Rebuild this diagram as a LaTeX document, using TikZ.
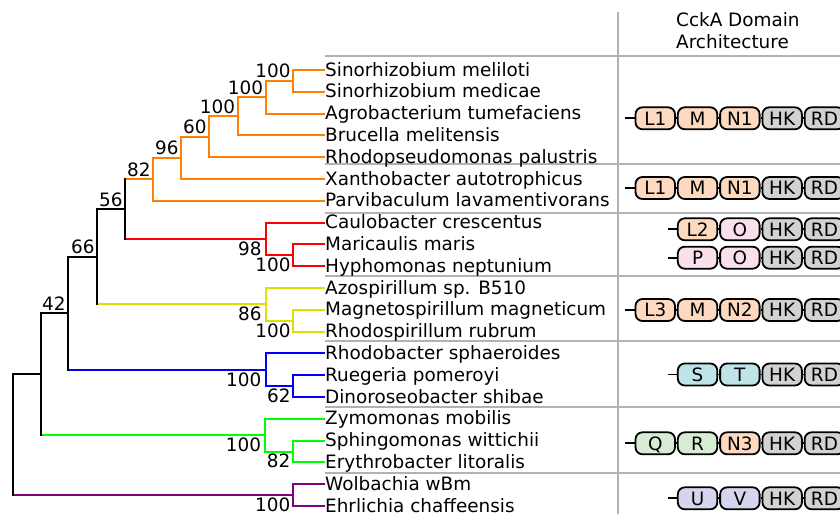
\documentclass[tikz,border=0pt]{standalone}
\usepackage{fontspec}
\setmainfont{DejaVu Sans}
\definecolor{tor}{RGB}{255,128,0}
\definecolor{tre}{RGB}{255,0,0}
\definecolor{tye}{RGB}{222,222,0}
\definecolor{tbl}{RGB}{0,0,255}
\definecolor{tgr}{RGB}{0,255,0}
\definecolor{tpu}{RGB}{128,0,128}
\definecolor{sepg}{RGB}{178,178,178}
\definecolor{cpeach}{RGB}{252,217,191}
\definecolor{cgray}{RGB}{210,210,210}
\definecolor{cpink}{RGB}{250,224,236}
\definecolor{ccyan}{RGB}{191,228,232}
\definecolor{cgreen}{RGB}{214,236,211}
\definecolor{clav}{RGB}{214,213,238}
\newcommand{\tedge}[3]{\draw[treeline,#1] (#2 |- #3) -- (#3);}
\newcommand{\tvert}[4]{\draw[treeline,#1] (#2 |- #3) -- (#2 |- #4);}
\begin{document}
\begin{tikzpicture}[x=1pt,y=-1pt,
  every node/.style={font=\fontsize{18.4}{22.3}\selectfont, inner sep=0pt},
  treeline/.style={line width=2pt, line cap=rect},
  sepline/.style={sepg, line width=2pt},
  leaflab/.style={anchor=base west},
  bsabove/.style={anchor=south east},
  bsbelow/.style={anchor=north east},
  dom/.style={draw, line width=1.8pt, rounded corners=7pt, minimum width=39.5pt,
    minimum height=22pt, text height=13.4pt, text depth=0pt, fill=#1},
  conn/.style={line width=1.8pt}]
\useasboundingbox (0,0) rectangle (840,514);
\clip (0,0) rectangle (840,514);
% ---- separators
\draw[sepline] (618,12) -- (618,514);
\foreach \yy in {56,163.5,212.5,276,341,407,472.5}
  \draw[sepline] (325,\yy) -- (840,\yy);
% ---- header
\node[anchor=base west] (hdr1) at (676,26) {CckA Domain};
\node[anchor=base west] (hdr2) at (676,48.3) {Architecture};
% ---- tips
\foreach \i in {1,...,21} \coordinate (t\i) at (323.5,{70+21.8*(\i-1)});
% ---- internal nodes
\coordinate (O6) at (293.3,80.9);
\coordinate (O5) at (265.7,97.25);
\coordinate (O4) at (237.7,116.3);
\coordinate (O3) at (209.3,136.8);
\coordinate (O2) at (181.3,157.9);
\coordinate (O)  at (153.3,179.35);
\coordinate (Rd2) at (293.3,255.3);
\coordinate (Rd) at (265.7,238.95);
\coordinate (D)  at (125.3,209.15);
\coordinate (Y2) at (293.3,320.7);
\coordinate (Y)  at (265.7,304.35);
\coordinate (C)  at (97.3,256.75);
\coordinate (Bl2) at (293.3,386.1);
\coordinate (Bl) at (265.5,369.75);
\coordinate (B)  at (68.3,313.25);
\coordinate (G2) at (293.0,451.5);
\coordinate (G)  at (265.3,435.15);
\coordinate (A)  at (40.7,374.2);
\coordinate (P)  at (293.0,495.1);
\coordinate (R)  at (12.7,434.65);
% ---- horizontals
\tedge{tor}{O6}{t1}\tedge{tor}{O6}{t2}
\tedge{tor}{O5}{O6}\tedge{tor}{O5}{t3}
\tedge{tor}{O4}{O5}\tedge{tor}{O4}{t4}
\tedge{tor}{O3}{O4}\tedge{tor}{O3}{t5}
\tedge{tor}{O2}{O3}\tedge{tor}{O2}{t6}
\tedge{tor}{O}{O2}\tedge{tor}{O}{t7}
\tedge{tor}{D}{O}\tedge{tre}{D}{Rd}
\tedge{tre}{Rd}{t8}\tedge{tre}{Rd}{Rd2}
\tedge{tre}{Rd2}{t9}\tedge{tre}{Rd2}{t10}
\tedge{black}{C}{D}\tedge{tye}{C}{Y}
\tedge{tye}{Y}{t11}\tedge{tye}{Y}{Y2}
\tedge{tye}{Y2}{t12}\tedge{tye}{Y2}{t13}
\tedge{black}{B}{C}\tedge{tbl}{B}{Bl}
\tedge{tbl}{Bl}{t14}\tedge{tbl}{Bl}{Bl2}
\tedge{tbl}{Bl2}{t15}\tedge{tbl}{Bl2}{t16}
\tedge{black}{A}{B}\tedge{tgr}{A}{G}
\tedge{tgr}{G}{t17}\tedge{tgr}{G}{G2}
\tedge{tgr}{G2}{t18}\tedge{tgr}{G2}{t19}
\tedge{black}{R}{A}\tedge{tpu}{R}{P}
\tedge{tpu}{P}{t20}\tedge{tpu}{P}{t21}
% ---- verticals
\tvert{tor}{O6}{t1}{t2}
\tvert{tor}{O5}{O6}{t3}
\tvert{tor}{O4}{O5}{t4}
\tvert{tor}{O3}{O4}{t5}
\tvert{tor}{O2}{O3}{t6}
\tvert{tor}{O}{O2}{t7}
\tvert{tre}{Rd2}{t9}{t10}
\tvert{tre}{Rd}{t8}{Rd2}
\tvert{black}{D}{O}{Rd}
\tvert{tye}{Y2}{t12}{t13}
\tvert{tye}{Y}{t11}{Y2}
\tvert{black}{C}{D}{Y}
\tvert{tbl}{Bl2}{t15}{t16}
\tvert{tbl}{Bl}{t14}{Bl2}
\tvert{black}{B}{C}{Bl}
\tvert{tgr}{G2}{t18}{t19}
\tvert{tgr}{G}{t17}{G2}
\tvert{black}{A}{B}{G}
\tvert{tpu}{P}{t20}{t21}
\tvert{black}{R}{A}{P}
% ---- support values
\node[bsabove] (sO6) at ([xshift=-2.5pt,yshift=2.5pt]O6) {100};
\node[bsabove] (sO5) at ([xshift=-2.5pt,yshift=2.5pt]O5) {100};
\node[bsabove] (sO4) at ([xshift=-2.5pt,yshift=2.5pt]O4) {100};
\node[bsabove] (sO3) at ([xshift=-2.5pt,yshift=2.5pt]O3) {60};
\node[bsabove] (sO2) at ([xshift=-2.5pt,yshift=2.5pt]O2) {96};
\node[bsabove] (sO) at ([xshift=-2.5pt,yshift=2.5pt]O) {82};
\node[bsabove] (sD) at ([xshift=-2.5pt,yshift=2.5pt]D) {56};
\node[bsabove] (sC) at ([xshift=-2.5pt,yshift=2.5pt]C) {66};
\node[bsabove] (sB) at ([xshift=-2.5pt,yshift=2.5pt]B) {42};
\node[bsbelow] (sRd) at ([xshift=-4pt,yshift=-3pt]Rd) {98};
\node[bsbelow] (sRd2) at ([xshift=-2.5pt,yshift=-2.5pt]Rd2) {100};
\node[bsbelow] (sY) at ([xshift=-4pt,yshift=-2.5pt]Y) {86};
\node[bsbelow] (sY2) at ([xshift=-2.5pt,yshift=-2.5pt]Y2) {100};
\node[bsbelow] (sBl) at ([xshift=-4pt,yshift=-2.5pt]Bl) {100};
\node[bsbelow] (sBl2) at ([xshift=-2.5pt,yshift=-2.5pt]Bl2) {62};
\node[bsbelow] (sG) at ([xshift=-4pt,yshift=-2.5pt]G) {100};
\node[bsbelow] (sG2) at ([xshift=-2.5pt,yshift=-2.5pt]G2) {82};
\node[bsbelow] (sP) at ([xshift=-2.5pt,yshift=-2.5pt]P) {100};
% ---- leaf labels
\foreach \i/\nm in {1/Sinorhizobium meliloti,2/Sinorhizobium medicae,3/Agrobacterium tumefaciens,
  4/Brucella melitensis,5/Rhodopseudomonas palustris,6/Xanthobacter autotrophicus,
  7/Parvibaculum lavamentivorans,8/Caulobacter crescentus,9/Maricaulis maris,
  10/Hyphomonas neptunium,11/Azospirillum sp. B510,12/Magnetospirillum magneticum,
  13/Rhodospirillum rubrum,14/Rhodobacter sphaeroides,15/Ruegeria pomeroyi,
  16/Dinoroseobacter shibae,17/Zymomonas mobilis,18/Sphingomonas wittichii,
  19/Erythrobacter litoralis,20/Wolbachia wBm,21/Ehrlichia chaffeensis}
  \node[leaflab] (lab\i) at ([xshift=1.5pt,yshift=-6pt]t\i) {\nm};
% ---- domain rows
\def\pa{655.25}\def\pb{697.55}\def\pc{739.85}\def\pd{782.15}\def\pe{824.45}
% row 1
\coordinate (r1s) at (625,118.3);
\node[dom=cpeach] (r1a) at (\pa,118.3) {L1};
\node[dom=cpeach] (r1b) at (\pb,118.3) {M};
\node[dom=cpeach] (r1c) at (\pc,118.3) {N1};
\node[dom=cgray] (r1d) at (\pd,118.3) {HK};
\node[dom=cgray] (r1e) at (\pe,118.3) {RD};
\draw[conn] (r1s) -- (r1a.west) (r1a.east) -- (r1b.west) (r1b.east) -- (r1c.west) (r1c.east) -- (r1d.west) (r1d.east) -- (r1e.west);
% row 2
\coordinate (r2s) at (625,188);
\node[dom=cpeach] (r2a) at (\pa,188) {L1};
\node[dom=cpeach] (r2b) at (\pb,188) {M};
\node[dom=cpeach] (r2c) at (\pc,188) {N1};
\node[dom=cgray] (r2d) at (\pd,188) {HK};
\node[dom=cgray] (r2e) at (\pe,188) {RD};
\draw[conn] (r2s) -- (r2a.west) (r2a.east) -- (r2b.west) (r2b.east) -- (r2c.west) (r2c.east) -- (r2d.west) (r2d.east) -- (r2e.west);
% row 3
\coordinate (r3s) at (667.5,229.3);
\node[dom=cpeach] (r3b) at (\pb,229.3) {L2};
\node[dom=cpink] (r3c) at (\pc,229.3) {O};
\node[dom=cgray] (r3d) at (\pd,229.3) {HK};
\node[dom=cgray] (r3e) at (\pe,229.3) {RD};
\draw[conn] (r3s) -- (r3b.west) (r3b.east) -- (r3c.west) (r3c.east) -- (r3d.west) (r3d.east) -- (r3e.west);
% row 4
\coordinate (r4s) at (667.5,257.7);
\node[dom=cpink] (r4b) at (\pb,257.7) {P};
\node[dom=cpink] (r4c) at (\pc,257.7) {O};
\node[dom=cgray] (r4d) at (\pd,257.7) {HK};
\node[dom=cgray] (r4e) at (\pe,257.7) {RD};
\draw[conn] (r4s) -- (r4b.west) (r4b.east) -- (r4c.west) (r4c.east) -- (r4d.west) (r4d.east) -- (r4e.west);
% row 5
\coordinate (r5s) at (625,310);
\node[dom=cpeach] (r5a) at (\pa,310) {L3};
\node[dom=cpeach] (r5b) at (\pb,310) {M};
\node[dom=cpeach] (r5c) at (\pc,310) {N2};
\node[dom=cgray] (r5d) at (\pd,310) {HK};
\node[dom=cgray] (r5e) at (\pe,310) {RD};
\draw[conn] (r5s) -- (r5a.west) (r5a.east) -- (r5b.west) (r5b.east) -- (r5c.west) (r5c.east) -- (r5d.west) (r5d.east) -- (r5e.west);
% row 6
\coordinate (r6s) at (667.5,374.5);
\node[dom=ccyan] (r6b) at (\pb,374.5) {S};
\node[dom=ccyan] (r6c) at (\pc,374.5) {T};
\node[dom=cgray] (r6d) at (\pd,374.5) {HK};
\node[dom=cgray] (r6e) at (\pe,374.5) {RD};
\draw[conn] (r6s) -- (r6b.west) (r6b.east) -- (r6c.west) (r6c.east) -- (r6d.west) (r6d.east) -- (r6e.west);
% row 7
\coordinate (r7s) at (625,443.3);
\node[dom=cgreen] (r7a) at (\pa,443.3) {Q};
\node[dom=cgreen] (r7b) at (\pb,443.3) {R};
\node[dom=cpeach] (r7c) at (\pc,443.3) {N3};
\node[dom=cgray] (r7d) at (\pd,443.3) {HK};
\node[dom=cgray] (r7e) at (\pe,443.3) {RD};
\draw[conn] (r7s) -- (r7a.west) (r7a.east) -- (r7b.west) (r7b.east) -- (r7c.west) (r7c.east) -- (r7d.west) (r7d.east) -- (r7e.west);
% row 8
\coordinate (r8s) at (667.5,498.3);
\node[dom=clav] (r8b) at (\pb,498.3) {U};
\node[dom=clav] (r8c) at (\pc,498.3) {V};
\node[dom=cgray] (r8d) at (\pd,498.3) {HK};
\node[dom=cgray] (r8e) at (\pe,498.3) {RD};
\draw[conn] (r8s) -- (r8b.west) (r8b.east) -- (r8c.west) (r8c.east) -- (r8d.west) (r8d.east) -- (r8e.west);
\end{tikzpicture}
\end{document}
